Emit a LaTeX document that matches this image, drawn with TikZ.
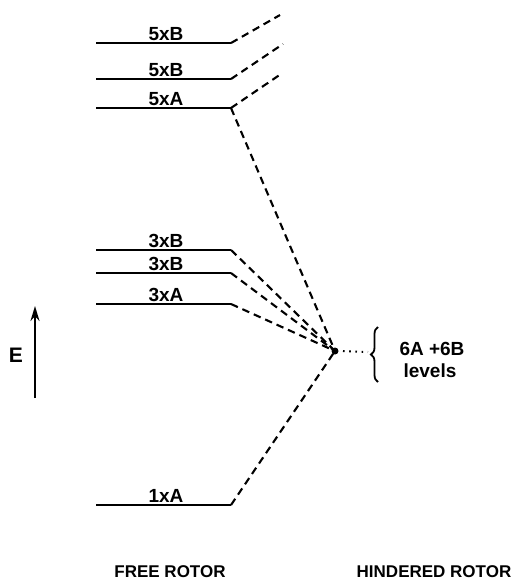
\documentclass[tikz,border=0pt]{standalone}
\usepackage{fontspec}
\setmainfont{Liberation Sans}
\usetikzlibrary{arrows.meta,decorations.pathreplacing}

\begin{document}
\begin{tikzpicture}[x=1pt,y=-1pt,
	level/.style={line width=2.1pt},
	corr/.style={line width=2.1pt,dash pattern=on 7.5pt off 5pt},
	lbl/.style={font=\bfseries\fontsize{19}{22}\selectfont,inner sep=0pt,anchor=base}]
	\useasboundingbox (0,0) rectangle (514,582);

	% free rotor levels
	\foreach \nm/\y/\txt in {a/43/5xB, b/79/5xB, c/108/5xA, d/250/3xB, e/273/3xB, f/304/3xA, g/505/1xA} {
		\draw[level] (96,\y) coordinate (\nm0) -- (231,\y) coordinate (\nm1);
		\node[lbl] (t\nm) at (166,\y-3) {\txt};
	}

	% hindered rotor
	\coordinate (hr) at (335,351);
	\coordinate (ua) at (280,15);
	\coordinate (ub) at (283,44);
	\coordinate (uc) at (281,74);
	\draw[corr] (a1) -- (ua);
	\draw[corr] (b1) -- (ub);
	\draw[corr] (c1) -- (uc);
	\foreach \nm in {c,d,e,f,g}
		\draw[corr] (\nm1) -- (hr);
	\fill (hr) circle (3.5pt);

	\coordinate (bt) at (368,352);
	\draw[line width=2pt,dash pattern=on 1.6pt off 4.6pt] (hr) ++(8,0) -- (bt);
	\draw[line width=1.8pt,decorate,decoration={brace,amplitude=7pt}] (378,382) -- (378,327);
	\node[lbl,anchor=center] (six) at (432,349) {6A +6B};
	\node[lbl,anchor=center] (lev) at (430,371) {levels};

	% energy axis
	\coordinate (eb) at (35,398);
	\coordinate (et) at (35,306);
	\draw[line width=2.2pt,-{Stealth[length=15pt,width=9pt]}] (eb) -- (et);
	\node[lbl,anchor=center,font=\bfseries\fontsize{21}{24}\selectfont] (en) at (16,355) {E};

	\node[lbl,anchor=center,font=\bfseries\fontsize{17}{20}\selectfont] (fr) at (170,572) {FREE ROTOR};
	\node[lbl,anchor=center,font=\bfseries\fontsize{17}{20}\selectfont] (hd) at (434,572) {HINDERED ROTOR};
\end{tikzpicture}
\end{document}
